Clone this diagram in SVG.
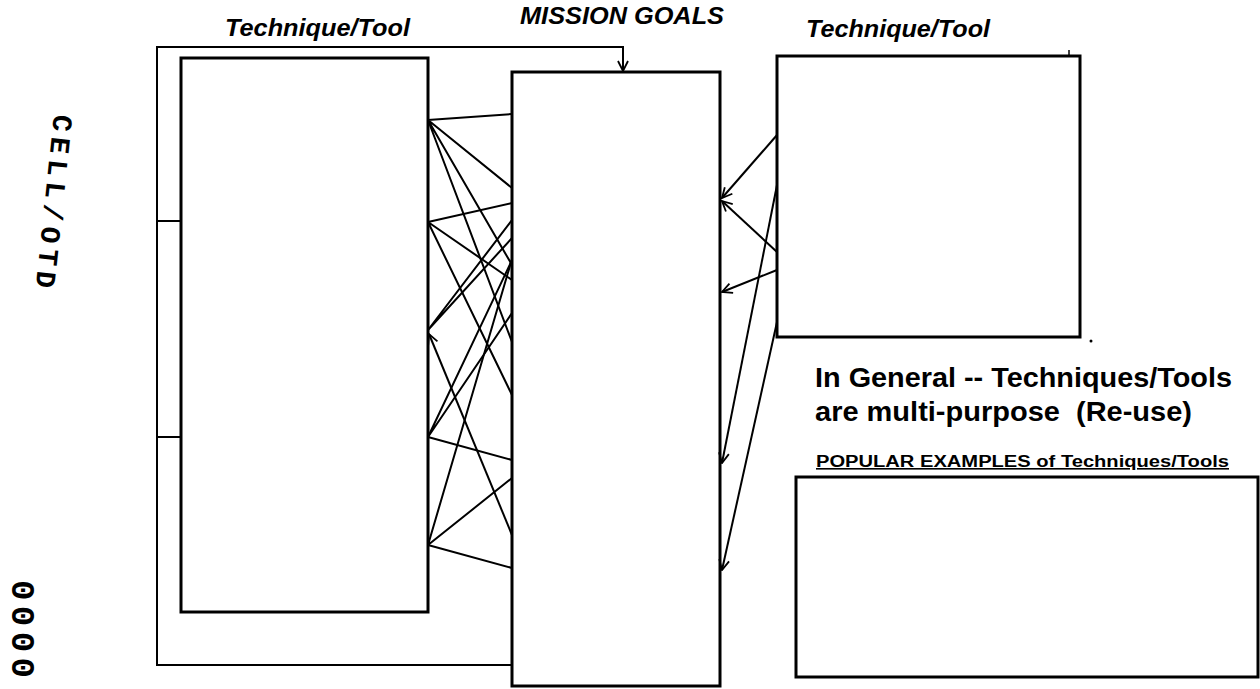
<svg xmlns="http://www.w3.org/2000/svg" width="1260" height="689" viewBox="0 0 1260 689">
<style>
.box{fill:none;stroke:#000;stroke-width:3}
.ln{fill:none;stroke:#000;stroke-width:2}
.hd{font-family:"Liberation Sans",Arial,sans-serif;font-weight:bold;font-style:italic;font-size:23px}
.big{font-family:"Liberation Sans",Arial,sans-serif;font-weight:bold;font-size:28px}
.pop{font-family:"Liberation Sans",Arial,sans-serif;font-weight:bold;font-size:16px;text-decoration:underline}
.mono{font-family:"Liberation Mono","DejaVu Sans Mono",monospace;font-weight:bold;font-size:28px}
.zero{font-family:"Liberation Mono","DejaVu Sans Mono",monospace;font-weight:bold;font-size:34px}
</style>
<defs>
<marker id="ah" viewBox="0 0 12 12" refX="11" refY="6" markerWidth="12" markerHeight="12" markerUnits="userSpaceOnUse" orient="auto">
<path d="M1,1 L11,6 L1,11" fill="none" stroke="#000" stroke-width="1.8"/>
</marker>
</defs>
<rect width="1260" height="689" fill="#fff"/>
<g id="titles">
<text class="hd" x="225" y="36" textLength="185" lengthAdjust="spacingAndGlyphs">Technique/Tool</text>
<text class="hd" x="520" y="24" textLength="204" lengthAdjust="spacingAndGlyphs">MISSION GOALS</text>
<text class="hd" x="806" y="37" textLength="184" lengthAdjust="spacingAndGlyphs">Technique/Tool</text>
</g>
<g id="side-labels">
<text class="mono" transform="translate(54,114) rotate(96)" textLength="174" lengthAdjust="spacing">CELL/OTD</text>
<text class="zero" transform="translate(12,580) rotate(90)" textLength="98" lengthAdjust="spacing">0000</text>
</g>
<g id="left-box"><rect class="box" x="181" y="58" width="247" height="554"/></g>
<g id="mission-goals"><rect class="box" x="512" y="72" width="208" height="614"/></g>
<g id="right-box"><rect class="box" x="777" y="56" width="303" height="281"/></g>
<g id="examples">
<text class="big" x="815" y="387" textLength="417" lengthAdjust="spacingAndGlyphs">In General -- Techniques/Tools</text>
<text class="big" x="815" y="421" textLength="377" lengthAdjust="spacingAndGlyphs" xml:space="preserve">are multi-purpose  (Re-use)</text>
<text class="pop" x="816" y="467" textLength="413" lengthAdjust="spacingAndGlyphs">POPULAR EXAMPLES of Techniques/Tools</text>
<rect class="box" x="796" y="477" width="462" height="200"/>
</g>
<g id="connectors">
<path class="ln" d="M181,221 H157 V47 H623 V71" marker-end="url(#ah)"/>
<path class="ln" d="M157,221 V665 H512"/>
<path class="ln" d="M157,437 H181"/>
<path class="ln" d="M428,120 L512,114 M428,120 L512,188 M428,120 L512,265 M428,120 L512,342"/>
<path class="ln" d="M428,222 L512,203 M428,222 L512,280 M428,222 L512,395"/>
<path class="ln" d="M428,330 L512,220 M428,330 L512,238"/>
<path class="ln" d="M512,535 L429,334" marker-end="url(#ah)"/>
<path class="ln" d="M428,437 L512,460 M428,437 L512,260 M428,437 L512,313"/>
<path class="ln" d="M428,545 L512,568 M428,545 L512,478 M428,545 L512,259"/>
<path class="ln" d="M777,135 L722,198" marker-end="url(#ah)"/>
<path class="ln" d="M777,252 L722,201" marker-end="url(#ah)"/>
<path class="ln" d="M777,270 L722,292" marker-end="url(#ah)"/>
<path class="ln" d="M777,185 L722,463" marker-end="url(#ah)"/>
<path class="ln" d="M777,322 L722,570" marker-end="url(#ah)"/>
</g>
<g id="marks">
<line x1="1069" y1="50" x2="1069" y2="56" stroke="#000" stroke-width="1.5"/>
<circle cx="1091" cy="341" r="1.5" fill="#000"/>
</g>
</svg>
